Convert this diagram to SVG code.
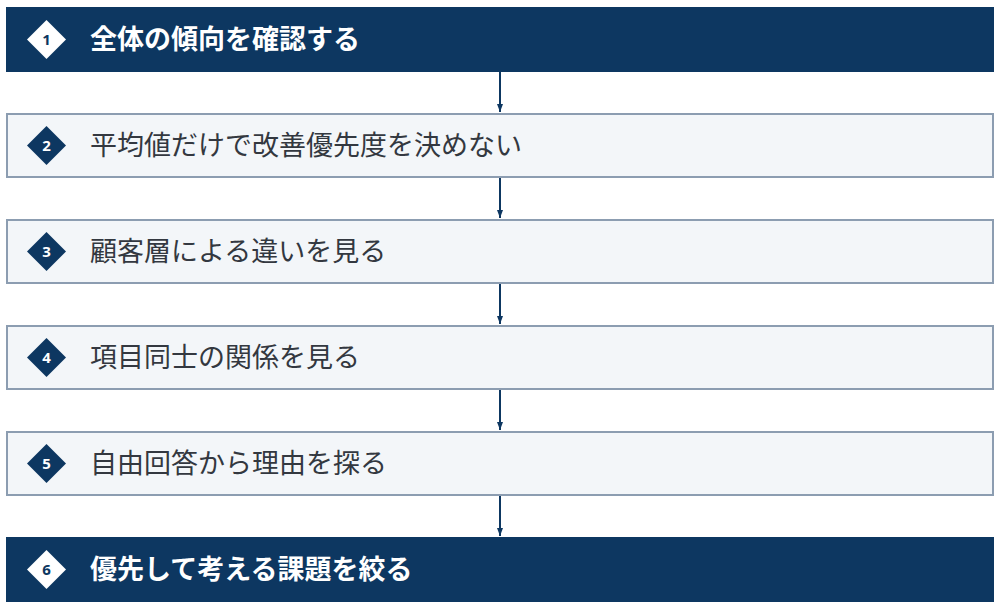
<svg xmlns="http://www.w3.org/2000/svg" width="1000" height="609" viewBox="0 0 1000 609">
<defs>
<style>
.dark{fill:#0d3761;}
.light{fill:#f3f6f9;stroke:#8c9db1;stroke-width:2;}
.dtext{font-family:"Noto Sans CJK JP","Noto Sans",sans-serif;font-size:27px;font-weight:bold;fill:#ffffff;}
.ltext{font-family:"Noto Sans CJK JP","Noto Sans",sans-serif;font-size:27px;fill:#333840;}
.num{font-family:"Noto Sans","DejaVu Sans",sans-serif;font-size:15px;font-weight:bold;text-anchor:middle;}
.conn{stroke:#0d3761;stroke-width:2;fill:none;}
</style>
<marker id="ah" viewBox="0 0 8 6" refX="8" refY="3" markerWidth="4" markerHeight="3" orient="auto" markerUnits="strokeWidth">
<path d="M0,0 L8,3 L0,6 Z" fill="#0d3761"/>
</marker>
</defs>
<rect width="1000" height="609" fill="#ffffff"/>
<g id="connectors">
<line class="conn" x1="500" y1="72" x2="500" y2="112" marker-end="url(#ah)"/>
<line class="conn" x1="500" y1="178" x2="500" y2="218" marker-end="url(#ah)"/>
<line class="conn" x1="500" y1="284" x2="500" y2="324" marker-end="url(#ah)"/>
<line class="conn" x1="500" y1="390" x2="500" y2="430" marker-end="url(#ah)"/>
<line class="conn" x1="500" y1="496" x2="500" y2="536" marker-end="url(#ah)"/>
</g>
<g id="node1">
<rect class="dark" x="6" y="7" width="988" height="65"/>
<path d="M46.5,20 L66,39.5 L46.5,59 L27,39.5 Z" fill="#ffffff"/>
<text class="num" x="46.5" y="45" fill="#0d3761">1</text>
<text class="dtext" x="90" y="49">全体の傾向を確認する</text>
</g>
<g id="node2">
<rect class="light" x="7" y="114" width="986" height="63"/>
<path d="M46.5,126 L66,145.5 L46.5,165 L27,145.5 Z" fill="#0d3761"/>
<text class="num" x="46.5" y="151" fill="#ffffff">2</text>
<text class="ltext" x="90" y="155">平均値だけで改善優先度を決めない</text>
</g>
<g id="node3">
<rect class="light" x="7" y="220" width="986" height="63"/>
<path d="M46.5,232 L66,251.5 L46.5,271 L27,251.5 Z" fill="#0d3761"/>
<text class="num" x="46.5" y="257" fill="#ffffff">3</text>
<text class="ltext" x="90" y="261">顧客層による違いを見る</text>
</g>
<g id="node4">
<rect class="light" x="7" y="326" width="986" height="63"/>
<path d="M46.5,338 L66,357.5 L46.5,377 L27,357.5 Z" fill="#0d3761"/>
<text class="num" x="46.5" y="363" fill="#ffffff">4</text>
<text class="ltext" x="90" y="367">項目同士の関係を見る</text>
</g>
<g id="node5">
<rect class="light" x="7" y="432" width="986" height="63"/>
<path d="M46.5,444 L66,463.5 L46.5,483 L27,463.5 Z" fill="#0d3761"/>
<text class="num" x="46.5" y="469" fill="#ffffff">5</text>
<text class="ltext" x="90" y="473">自由回答から理由を探る</text>
</g>
<g id="node6">
<rect class="dark" x="6" y="537" width="988" height="65"/>
<path d="M46.5,550 L66,569.5 L46.5,589 L27,569.5 Z" fill="#ffffff"/>
<text class="num" x="46.5" y="575" fill="#0d3761">6</text>
<text class="dtext" x="90" y="579">優先して考える課題を絞る</text>
</g>
</svg>
